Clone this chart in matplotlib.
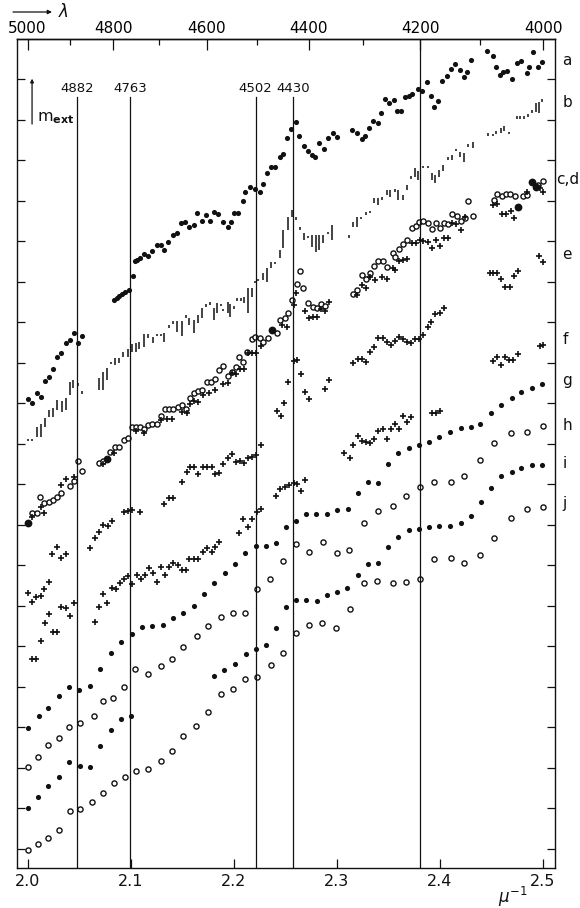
import matplotlib
matplotlib.use("Agg")
import matplotlib.pyplot as plt
import numpy as np

# extinction curves, x in 1/micron, y in tenths of a magnitude (arbitrary zero)
a_x = [2.000, 2.004, 2.009, 2.013, 2.017, 2.021, 2.025, 2.029, 2.032, 2.037, 2.041, 2.045, 2.049, 2.053,
       2.084, 2.087, 2.089, 2.092, 2.095, 2.098, 2.102, 2.104, 2.106, 2.109, 2.113, 2.117, 2.121, 2.126,
       2.129, 2.132, 2.136, 2.141, 2.145, 2.149, 2.153, 2.157, 2.161, 2.164, 2.169, 2.173, 2.177, 2.181,
       2.185, 2.190, 2.194, 2.197, 2.200, 2.204, 2.209, 2.211, 2.216, 2.221, 2.225, 2.228, 2.232, 2.236,
       2.240, 2.245, 2.248, 2.252, 2.256, 2.260, 2.263, 2.268, 2.272, 2.276, 2.279, 2.283, 2.288, 2.291,
       2.296, 2.300, 2.315, 2.320, 2.324, 2.327, 2.331, 2.335, 2.340, 2.343, 2.347, 2.351, 2.355, 2.358,
       2.362, 2.366, 2.370, 2.373, 2.379, 2.383, 2.387, 2.391, 2.394, 2.398, 2.402, 2.407, 2.411, 2.415,
       2.419, 2.423, 2.426, 2.430, 2.446, 2.451, 2.454, 2.458, 2.461, 2.465, 2.470, 2.475, 2.479, 2.484,
       2.486, 2.490, 2.495, 2.499]
a_y = [11.11, 11.01, 11.26, 11.16, 11.56, 11.65, 11.85, 12.15, 12.25, 12.49, 12.57, 12.74, 12.49, 12.67,
       13.56, 13.60, 13.65, 13.70, 13.75, 13.80, 14.15, 14.52, 14.54, 14.59, 14.69, 14.64, 14.77, 14.91,
       14.91, 14.79, 14.99, 15.16, 15.21, 15.46, 15.48, 15.36, 15.41, 15.70, 15.51, 15.65, 15.51, 15.73,
       15.68, 15.48, 15.36, 15.48, 15.70, 15.70, 16.00, 16.22, 16.35, 16.30, 16.22, 16.42, 16.69, 16.84,
       16.84, 17.09, 17.16, 17.56, 17.78, 17.95, 17.60, 17.36, 17.23, 17.14, 17.09, 17.43, 17.28, 17.56,
       17.68, 17.58, 17.75, 17.68, 17.53, 17.60, 17.80, 17.98, 17.93, 18.17, 18.52, 18.42, 18.49, 18.22,
       18.22, 18.57, 18.59, 18.64, 18.77, 18.72, 18.94, 18.59, 18.32, 18.47, 18.96, 19.09, 19.26, 19.38,
       19.23, 19.06, 19.19, 19.48, 19.70, 19.58, 19.31, 19.11, 19.19, 19.21, 19.01, 19.41, 19.46, 19.16,
       19.31, 19.68, 19.31, 19.43]

# b: measured ranges (vertical bars)
b_x = [2.000, 2.004, 2.009, 2.013, 2.017, 2.021, 2.025, 2.029, 2.033, 2.037, 2.041, 2.044, 2.049, 2.053,
       2.069, 2.073, 2.077, 2.081, 2.085, 2.089, 2.093, 2.097, 2.101, 2.105, 2.108, 2.113, 2.117, 2.122,
       2.126, 2.129, 2.132, 2.137, 2.141, 2.145, 2.150, 2.154, 2.157, 2.161, 2.165, 2.169, 2.173, 2.177,
       2.181, 2.184, 2.188, 2.190, 2.194, 2.196, 2.200, 2.203, 2.207, 2.210, 2.214, 2.218, 2.221, 2.224,
       2.228, 2.232, 2.236, 2.240, 2.245, 2.248, 2.253, 2.257, 2.260, 2.264, 2.268, 2.272, 2.276, 2.280,
       2.283, 2.287, 2.291, 2.295, 2.312, 2.316, 2.320, 2.323, 2.328, 2.332, 2.336, 2.340, 2.344, 2.349,
       2.352, 2.356, 2.359, 2.364, 2.368, 2.372, 2.376, 2.379, 2.384, 2.388, 2.392, 2.395, 2.399, 2.403,
       2.408, 2.412, 2.416, 2.419, 2.423, 2.427, 2.432, 2.447, 2.451, 2.454, 2.459, 2.462, 2.467, 2.475,
       2.478, 2.482, 2.485, 2.489, 2.493, 2.496, 2.499]
b_lo = [10.10, 10.10, 10.17, 10.17, 10.42, 10.67, 10.67, 10.84, 10.79, 10.84, 11.21, 11.38, 11.46, 11.28,
        11.33, 11.33, 11.58, 12.00, 11.95, 12.00, 12.15, 12.15, 12.27, 12.27, 12.35, 12.40, 12.62, 12.49,
        12.69, 12.69, 12.52, 12.86, 12.99, 12.77, 12.67, 13.14, 12.94, 12.74, 12.99, 13.11, 13.41, 13.46,
        13.06, 13.23, 13.43, 13.31, 13.23, 13.14, 13.36, 13.56, 13.56, 13.48, 13.23, 13.63, 14.00, 14.05,
        14.05, 14.00, 14.35, 14.47, 14.59, 14.84, 15.28, 15.60, 15.53, 15.33, 15.04, 15.11, 14.86, 14.74,
        14.79, 14.96, 15.21, 15.04, 15.09, 15.36, 15.36, 15.58, 15.70, 15.73, 15.95, 15.90, 16.07, 16.15,
        16.10, 16.25, 16.02, 16.02, 16.27, 16.57, 16.59, 16.52, 16.84, 16.84, 16.52, 16.44, 16.59, 16.74,
        17.04, 17.01, 17.26, 17.09, 16.96, 17.38, 17.31, 17.65, 17.63, 17.70, 17.68, 17.73, 17.68, 18.07,
        18.07, 18.07, 18.12, 18.20, 18.20, 18.17, 18.49]
b_hi = [10.10, 10.10, 10.42, 10.49, 10.64, 10.84, 10.89, 11.09, 11.06, 11.14, 11.53, 11.58, 11.46, 11.28,
        11.63, 11.78, 11.88, 12.00, 12.12, 12.12, 12.27, 12.35, 12.47, 12.49, 12.52, 12.72, 12.72, 12.64,
        12.69, 12.69, 12.74, 12.94, 12.99, 13.04, 13.04, 13.14, 13.11, 13.06, 13.19, 13.36, 13.41, 13.46,
        13.36, 13.48, 13.43, 13.31, 13.51, 13.46, 13.36, 13.56, 13.56, 13.63, 13.85, 13.85, 14.00, 14.05,
        14.22, 14.35, 14.49, 14.47, 14.79, 15.28, 15.60, 15.78, 15.60, 15.33, 15.21, 15.11, 15.16, 15.16,
        15.16, 15.16, 15.21, 15.41, 15.16, 15.48, 15.60, 15.58, 15.70, 15.73, 16.07, 16.07, 16.07, 16.27,
        16.27, 16.25, 16.27, 16.15, 16.40, 16.57, 16.81, 16.74, 16.84, 16.84, 16.69, 16.64, 16.77, 16.89,
        17.04, 17.14, 17.26, 17.21, 17.19, 17.38, 17.46, 17.65, 17.63, 17.70, 17.80, 17.85, 17.68, 18.07,
        18.07, 18.07, 18.12, 18.20, 18.42, 18.44, 18.49]

c_x = [2.004, 2.009, 2.012, 2.016, 2.021, 2.025, 2.029, 2.032, 2.041, 2.045, 2.049, 2.053,
       2.069, 2.073, 2.080, 2.085, 2.089, 2.094, 2.097, 2.101, 2.105, 2.109, 2.113, 2.117, 2.121, 2.126,
       2.129, 2.133, 2.137, 2.141, 2.146, 2.150, 2.154, 2.158, 2.161, 2.165, 2.169, 2.174, 2.178, 2.182,
       2.186, 2.190, 2.194, 2.198, 2.202, 2.205, 2.209, 2.213, 2.218, 2.221, 2.225, 2.228, 2.233, 2.242,
       2.245, 2.250, 2.253, 2.257, 2.261, 2.264, 2.267, 2.272, 2.277, 2.281, 2.285, 2.289,
       2.316, 2.320, 2.324, 2.328, 2.332, 2.336, 2.340, 2.345, 2.349, 2.354, 2.356, 2.360, 2.364, 2.368,
       2.373, 2.377, 2.380, 2.384, 2.388, 2.392, 2.396, 2.400, 2.404, 2.408, 2.412, 2.417, 2.420, 2.424,
       2.427, 2.432, 2.452, 2.455, 2.460, 2.464, 2.468, 2.473, 2.481, 2.484, 2.495, 2.500]
c_y = [8.30, 8.30, 8.69, 8.54, 8.57, 8.62, 8.69, 8.79, 8.96, 9.09, 9.58, 9.33,
       9.53, 9.58, 9.80, 9.93, 9.93, 10.10, 10.15, 10.42, 10.42, 10.42, 10.37, 10.47, 10.49, 10.49,
       10.69, 10.86, 10.86, 10.86, 10.91, 10.96, 10.86, 11.14, 11.26, 11.31, 11.33, 11.53, 11.53, 11.60,
       11.83, 11.93, 11.68, 11.78, 11.90, 12.15, 12.02, 12.27, 12.59, 12.64, 12.62, 12.52, 12.62, 12.74,
       13.06, 13.11, 13.23, 13.56, 13.95, 14.27, 13.85, 13.48, 13.38, 13.36, 13.46, 13.41,
       13.70, 13.80, 14.17, 14.07, 14.22, 14.40, 14.52, 14.52, 14.37, 14.72, 14.62, 14.81, 14.94, 15.04,
       15.33, 15.38, 15.48, 15.51, 15.46, 15.31, 15.46, 15.33, 15.46, 15.43, 15.68, 15.63, 15.51, 15.58,
       16.00, 15.63, 16.02, 16.17, 16.12, 16.17, 16.17, 16.12, 16.12, 16.15, 16.40, 16.49]

d_x = [2.004, 2.013, 2.016, 2.032, 2.037, 2.045, 2.073, 2.084, 2.105, 2.113, 2.129, 2.135, 2.140,
       2.150, 2.155, 2.158, 2.161, 2.165, 2.170, 2.176, 2.182, 2.190, 2.194, 2.198, 2.202, 2.206, 2.210,
       2.214, 2.218, 2.222, 2.226, 2.247, 2.252, 2.258, 2.260, 2.269, 2.273, 2.277, 2.281, 2.285, 2.289,
       2.292, 2.320, 2.324, 2.328, 2.332, 2.337, 2.344, 2.349, 2.354, 2.356, 2.360, 2.364, 2.368, 2.373,
       2.377, 2.381, 2.384, 2.388, 2.392, 2.396, 2.400, 2.404, 2.408, 2.412, 2.416, 2.420, 2.424,
       2.451, 2.455, 2.460, 2.464, 2.469, 2.472, 2.484, 2.497, 2.500]
d_y = [8.20, 8.44, 8.30, 8.99, 9.14, 9.19, 9.51, 9.78, 10.32, 10.27, 10.59, 10.62, 10.62,
       10.79, 10.77, 10.99, 11.06, 11.04, 11.21, 11.26, 11.33, 11.48, 11.51, 11.75, 11.73, 11.85, 11.85,
       12.25, 12.25, 12.25, 12.42, 12.94, 12.89, 13.43, 13.73, 13.28, 13.11, 13.14, 13.14, 13.33, 13.28,
       13.51, 13.68, 13.93, 13.85, 14.12, 14.05, 14.12, 14.07, 14.35, 14.30, 14.52, 14.54, 14.57, 14.96,
       14.96, 15.04, 15.01, 14.99, 14.84, 15.04, 14.89, 15.09, 15.09, 15.46, 15.43, 15.28, 15.60,
       15.90, 15.93, 15.68, 15.68, 15.75, 15.58, 16.22, 16.32, 16.22]

# points where c and d coincide
cd_x = [2.000, 2.077, 2.237, 2.476, 2.489, 2.493]
cd_y = [8.05, 9.63, 12.81, 15.85, 16.47, 16.35]

e_x = [2.000, 2.004, 2.008, 2.013, 2.016, 2.021, 2.024, 2.029, 2.032, 2.037, 2.061, 2.065, 2.069,
       2.073, 2.078, 2.082, 2.094, 2.097, 2.101, 2.109, 2.132, 2.137, 2.141, 2.150, 2.155, 2.158, 2.161,
       2.165, 2.170, 2.174, 2.179, 2.182, 2.186, 2.190, 2.194, 2.198, 2.202, 2.206, 2.210, 2.214, 2.218,
       2.222, 2.226, 2.242, 2.246, 2.249, 2.253, 2.258, 2.261, 2.265, 2.269, 2.273, 2.289, 2.292, 2.316,
       2.321, 2.324, 2.328, 2.332, 2.336, 2.340, 2.345, 2.349, 2.353, 2.356, 2.360, 2.364, 2.368, 2.372,
       2.376, 2.380, 2.384, 2.388, 2.391, 2.395, 2.400, 2.404, 2.449, 2.451, 2.455, 2.459, 2.463, 2.468,
       2.472, 2.476, 2.496, 2.500]
e_y = [6.32, 6.10, 6.22, 6.25, 6.42, 6.59, 7.28, 7.46, 7.19, 7.28, 7.43, 7.68, 7.83,
       8.00, 7.98, 8.10, 8.32, 8.35, 8.37, 8.32, 8.52, 8.67, 8.67, 9.06, 9.31, 9.43, 9.43,
       9.26, 9.43, 9.43, 9.43, 9.26, 9.28, 9.51, 9.65, 9.75, 9.56, 9.58, 9.53, 9.65, 9.68,
       9.73, 9.98, 10.81, 10.69, 11.01, 11.53, 12.05, 12.07, 11.73, 11.28, 11.11, 11.36, 11.58, 12.00,
       12.10, 12.10, 12.02, 12.27, 12.40, 12.62, 12.62, 12.52, 12.44, 12.54, 12.64, 12.59, 12.52, 12.49,
       12.59, 12.59, 12.69, 12.89, 13.01, 13.21, 13.23, 13.36, 14.22, 14.22, 14.22, 14.07, 13.88, 13.88,
       14.15, 14.27, 14.64, 14.49]

f_x = [2.004, 2.008, 2.013, 2.017, 2.021, 2.025, 2.029, 2.032, 2.037, 2.041, 2.045, 2.065, 2.069,
       2.073, 2.077, 2.082, 2.086, 2.090, 2.094, 2.097, 2.101, 2.106, 2.110, 2.114, 2.118, 2.122, 2.126,
       2.129, 2.133, 2.137, 2.141, 2.146, 2.150, 2.154, 2.157, 2.161, 2.165, 2.170, 2.174, 2.179, 2.182,
       2.186, 2.205, 2.209, 2.214, 2.218, 2.223, 2.226, 2.241, 2.245, 2.250, 2.254, 2.258, 2.261, 2.265,
       2.269, 2.307, 2.313, 2.316, 2.321, 2.324, 2.328, 2.332, 2.336, 2.340, 2.345, 2.349, 2.353, 2.356,
       2.360, 2.364, 2.368, 2.372, 2.392, 2.396, 2.400, 2.451, 2.455, 2.459, 2.463, 2.467, 2.471, 2.476,
       2.497, 2.500]
f_y = [4.69, 4.69, 5.14, 5.58, 5.80, 5.36, 5.36, 5.98, 5.95, 5.75, 6.07, 5.60, 5.98,
       6.30, 6.07, 6.44, 6.42, 6.57, 6.67, 6.74, 6.54, 6.77, 6.67, 6.77, 6.94, 6.81, 6.59,
       6.96, 6.77, 6.96, 7.06, 7.01, 6.89, 6.89, 7.16, 7.16, 7.16, 7.33, 7.43, 7.33, 7.46,
       7.58, 7.80, 8.15, 7.95, 8.15, 8.32, 8.40, 8.72, 8.89, 8.94, 8.99, 9.04, 9.01, 8.84,
       9.11, 9.78, 9.65, 9.98, 10.20, 10.07, 10.05, 10.02, 10.12, 10.32, 10.37, 10.12, 10.37, 10.49,
       10.37, 10.69, 10.54, 10.67, 10.77, 10.77, 10.81, 12.05, 12.15, 11.95, 12.15, 12.07, 12.07, 12.22,
       12.42, 12.44]

g_x = [2.000, 2.011, 2.020, 2.031, 2.040, 2.050, 2.061, 2.070, 2.081, 2.091, 2.101, 2.111, 2.121,
       2.131, 2.141, 2.151, 2.161, 2.171, 2.181, 2.192, 2.201, 2.211, 2.222, 2.231, 2.241, 2.251, 2.260,
       2.270, 2.280, 2.290, 2.300, 2.311, 2.321, 2.330, 2.340, 2.350, 2.359, 2.370, 2.380, 2.389, 2.399,
       2.410, 2.420, 2.430, 2.439, 2.450, 2.459, 2.470, 2.479, 2.489, 2.499]
g_y = [2.99, 3.28, 3.48, 3.78, 4.00, 3.93, 4.02, 4.44, 4.84, 5.11, 5.31, 5.48, 5.51,
       5.53, 5.70, 5.83, 6.00, 6.30, 6.57, 6.81, 7.04, 7.31, 7.48, 7.48, 7.56, 7.95, 8.10,
       8.27, 8.27, 8.27, 8.37, 8.40, 8.79, 9.06, 9.04, 9.51, 9.78, 9.90, 9.98, 10.05, 10.17,
       10.30, 10.40, 10.42, 10.49, 10.77, 10.96, 11.14, 11.28, 11.38, 11.48]

h_x = [2.000, 2.010, 2.020, 2.031, 2.040, 2.051, 2.064, 2.073, 2.083, 2.094, 2.104, 2.117, 2.129,
       2.140, 2.151, 2.164, 2.175, 2.188, 2.199, 2.211, 2.223, 2.235, 2.248, 2.260, 2.273, 2.287, 2.300,
       2.312, 2.326, 2.340, 2.354, 2.367, 2.381, 2.394, 2.411, 2.423, 2.439, 2.452, 2.469, 2.484, 2.500]
h_y = [2.02, 2.27, 2.57, 2.74, 3.01, 3.11, 3.28, 3.65, 3.73, 4.00, 4.44, 4.32, 4.52,
       4.69, 4.99, 5.26, 5.51, 5.73, 5.83, 5.83, 6.42, 6.67, 7.11, 7.53, 7.33, 7.58, 7.31,
       7.38, 8.05, 8.35, 8.47, 8.72, 8.94, 9.06, 9.06, 9.21, 9.60, 10.02, 10.27, 10.30, 10.44]

i_x = [2.000, 2.010, 2.020, 2.031, 2.040, 2.051, 2.061, 2.070, 2.081, 2.091, 2.100,
       2.181, 2.191, 2.201, 2.212, 2.222, 2.231, 2.241, 2.251, 2.260, 2.270, 2.281, 2.290, 2.300, 2.310,
       2.321, 2.330, 2.340, 2.350, 2.359, 2.370, 2.380, 2.389, 2.399, 2.410, 2.420, 2.430, 2.440, 2.450,
       2.459, 2.470, 2.479, 2.489, 2.499]
i_y = [1.01, 1.28, 1.56, 1.78, 2.15, 2.05, 2.02, 2.54, 2.94, 3.21, 3.28,
       4.27, 4.42, 4.57, 4.81, 4.94, 5.04, 5.46, 5.98, 6.15, 6.15, 6.12, 6.27, 6.35, 6.44,
       6.77, 7.04, 7.06, 7.46, 7.70, 7.88, 7.90, 7.95, 7.98, 7.98, 8.05, 8.22, 8.57, 8.91,
       9.21, 9.31, 9.41, 9.48, 9.48]

j_x = [2.000, 2.010, 2.020, 2.031, 2.041, 2.051, 2.063, 2.073, 2.084, 2.095, 2.105, 2.117, 2.129,
       2.140, 2.151, 2.163, 2.175, 2.188, 2.199, 2.211, 2.223, 2.236, 2.248, 2.260, 2.273, 2.286, 2.299,
       2.313, 2.326, 2.339, 2.354, 2.367, 2.381, 2.394, 2.411, 2.423, 2.439, 2.452, 2.469, 2.484, 2.500]
j_y = [-0.02, 0.12, 0.27, 0.47, 0.94, 0.99, 1.16, 1.38, 1.63, 1.78, 1.93, 1.98, 2.17,
       2.42, 2.79, 3.04, 3.38, 3.83, 3.95, 4.20, 4.25, 4.54, 4.84, 5.33, 5.53, 5.58, 5.46,
       5.93, 6.57, 6.62, 6.57, 6.59, 6.67, 7.16, 7.19, 7.06, 7.26, 7.68, 8.17, 8.40, 8.44]

# interstellar band wavelengths (Angstrom) and top axis wavelengths
band_lam = [4882, 4763, 4502, 4430]
line_4200 = 4200
top_lam = [5000, 4900, 4800, 4700, 4600, 4500, 4400, 4300, 4200, 4100, 4000]
top_lam_labels = [5000, 4800, 4600, 4400, 4200, 4000]

# right-hand curve labels and their heights
curve_names = ['a', 'b', 'c,d', 'e', 'f', 'g', 'h', 'i', 'j']
curve_label_y = [19.48, 18.42, 16.52, 14.69, 12.57, 11.56, 10.45, 9.53, 8.54]

K = '#111111'

fig = plt.figure(figsize=(5.8, 9.08), dpi=100)
ax = fig.add_axes([17 / 580, 1 - 868 / 908, 538 / 580, 829 / 908])
ax.set_xlim(1.9898, 2.5116)
ax.set_ylim(-0.47, 20.0)

dot = dict(ls='none', marker='o', color=K, ms=3.7, mew=0)
opn = dict(ls='none', marker='o', mfc='white', mec=K, ms=3.7, mew=1.0)
plus = dict(ls='none', marker='+', color=K, ms=3.9, mew=1.2)

ax.plot(a_x, a_y, **dot)

blo = np.array(b_lo)
bhi = np.array(b_hi)
short = (bhi - blo) < 0.05
blo = np.where(short, blo - 0.035, blo)
bhi = np.where(short, bhi + 0.035, bhi)
ax.vlines(b_x, blo, bhi, color=K, lw=1.1)

ax.plot(c_x, c_y, **opn)
ax.plot(d_x, d_y, **plus)
ax.plot(cd_x, cd_y, ls='none', marker='o', color=K, ms=5.6, mew=0)
ax.plot(e_x, e_y, **plus)
ax.plot(f_x, f_y, **plus)
ax.plot(g_x, g_y, **dot)
ax.plot(h_x, h_y, **opn)
ax.plot(i_x, i_y, **dot)
ax.plot(j_x, j_y, **opn)

# band lines
for lam in band_lam:
    xv = 1e4 / lam
    ax.plot([xv, xv], [-0.47, 18.57], color=K, lw=0.9)
    ax.text(xv, 18.62, str(lam), ha='center', va='bottom', fontsize=9.5, color=K)
ax.axvline(1e4 / line_4200, color=K, lw=0.9)

# m_ext scale bar
ax.annotate('', xy=(2.0044, 19.02), xytext=(2.0044, 17.9),
            arrowprops=dict(arrowstyle='-|>', lw=0.9, color=K, mutation_scale=5, shrinkA=0, shrinkB=0))
ax.text(2.0095, 18.05, r'm$_{\mathbf{ext}}$', fontsize=11.5, color=K, va='center', ha='left')

# axes styling
for s in ax.spines.values():
    s.set_linewidth(1.0)
    s.set_color(K)
ax.set_yticks(np.arange(0, 20))
ax.set_xticks([2.0, 2.1, 2.2, 2.3, 2.4, 2.5])
ax.set_xticklabels(['2.0', '2.1', '2.2', '2.3', '2.4', '2.5'])
ax.tick_params(axis='y', which='both', direction='in', left=True, right=True,
               labelleft=False, length=6, width=0.9, color=K)
ax.tick_params(axis='x', which='both', direction='in', bottom=True, top=False,
               length=6.5, width=0.9, labelsize=11.5, pad=4, color=K, labelcolor=K)

top = ax.secondary_xaxis('top')
top.set_xticks([1e4 / l for l in top_lam_labels])
top.set_xticklabels([str(l) for l in top_lam_labels])
top.set_xticks([1e4 / l for l in top_lam if l not in top_lam_labels], minor=True)
top.tick_params(which='major', direction='in', length=8, width=0.9, labelsize=11, pad=2, color=K)
top.tick_params(which='minor', direction='in', length=4.5, width=0.9, color=K)
top.spines['top'].set_linewidth(1.0)

# curve labels on the right
for name, yv in zip(curve_names, curve_label_y):
    xoff = 1.003 if name == 'c,d' else 1.014
    ax.text(xoff, yv, name, transform=ax.get_yaxis_transform(), fontsize=11,
            ha='left', va='center', color=K)

# lambda arrow and axis unit
fig.text(58 / 580, 1 - 12 / 908, r'$\lambda$', fontsize=12, ha='left', va='center', color=K)
ax.annotate('', xy=(52 / 580, 1 - 12 / 908), xytext=(13 / 580, 1 - 12 / 908),
            xycoords='figure fraction', textcoords='figure fraction',
            arrowprops=dict(arrowstyle='-|>', lw=0.9, color=K, mutation_scale=6, shrinkA=0, shrinkB=0))
fig.text(513 / 580, 1 - 897 / 908, r'$\mu^{-1}$', fontsize=12, ha='center', va='center', color=K)

fig.savefig('out.png', dpi=100)
